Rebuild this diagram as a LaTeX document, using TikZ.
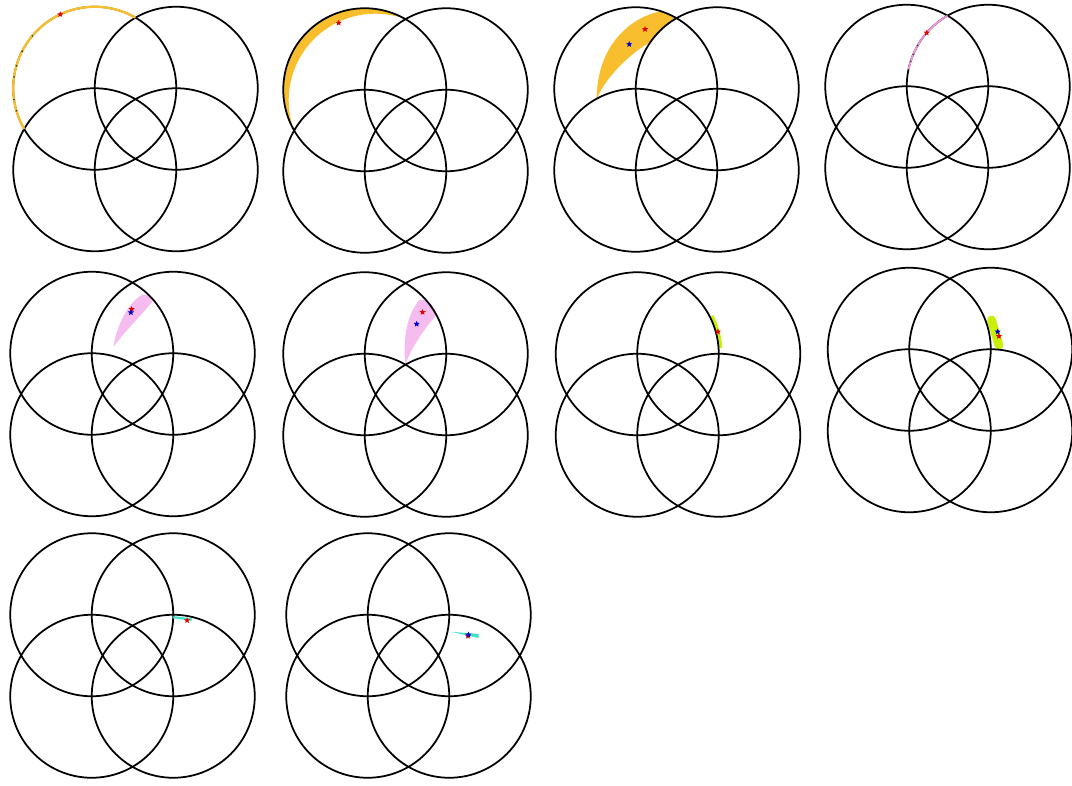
\documentclass[tikz,border=0pt]{standalone}
\usepackage{xcolor}
\usepackage{tikz}
\usetikzlibrary{shapes.geometric}

\definecolor{crescent}{RGB}{248,190,45}
\definecolor{lilac}{RGB}{246,188,240}
\definecolor{pinkline}{RGB}{240,150,225}
\definecolor{lime}{RGB}{200,240,10}
\definecolor{aqua}{RGB}{60,225,200}

\tikzset{
  ring/.style={black, line width=1pt},
  redstar/.style={star, star points=5, star point ratio=2.2, fill=red!90!black, inner sep=0pt, minimum size=3.6pt},
  bluestar/.style={redstar, fill=blue!80!black},
  dot/.style={fill=black!80},
}

% the four circles of one panel (centres one radius apart)
\newcommand{\rings}{%
  \foreach \cx/\cy in {-0.5/0.5, 0.5/0.5, -0.5/-0.5, 0.5/-0.5}
    \draw[ring] (\cx,\cy) circle (1);
}

\begin{document}
\begin{tikzpicture}[x=0.02cm, y=0.02cm]
    \useasboundingbox (0,0) rectangle (1072,-785);
    \fill[white] (0,0) rectangle (1072,-785);

    % Row 1
    \begin{scope}[shift={(135.5,-129)}, scale=81.5]
        \rings
        \draw[crescent, line width=1.3pt] (0,1.366) arc[start angle=60, end angle=210, radius=1];
        \foreach \a in {140,153,164,172,188,196}
            \fill[dot] (-0.5,0.5) ++(\a:1) circle (0.011);
        \node[redstar] (r1) at (-0.923,1.406) {};
    \end{scope}

    \begin{scope}[shift={(405.5,-130.5)}, scale=81.5]
        \begin{scope}
            \clip (-0.5,0.5) circle (1);
            \fill[crescent, even odd rule] (-0.5,0.5) circle (1) (-0.3715,0.3715) circle (1.0617);
        \end{scope}
        \rings
        \node[redstar] (r2) at (-0.82,1.32) {};
    \end{scope}

    \begin{scope}[shift={(676.5,-129.5)}, scale=81.5]
        \fill[crescent] (-0.98,0.36) .. controls (-0.90,0.62) and (-0.55,0.95) .. (-0.319,1.074)
            arc[start angle=145, end angle=120, radius=1]
            arc[start angle=60, end angle=72, radius=1]
            .. controls (-0.55,1.38) and (-0.98,1.05) .. (-0.98,0.36) -- cycle;
        \rings
        \node[redstar] (r3) at (-0.386,1.23) {};
        \node[bluestar] (b3) at (-0.58,1.045) {};
    \end{scope}

    \begin{scope}[shift={(947.5,-127)}, scale=81.5]
        \rings
        \draw[pinkline, line width=1pt] (0.5,0.5) ++(120:1) arc[start angle=120, end angle=168, radius=1];
        \foreach \a in {150,157,162}
            \fill[dot] (0.5,0.5) ++(\a:1) circle (0.01);
        \node[redstar] (r4) at (-0.255,1.156) {};
    \end{scope}

    % Row 2
    \begin{scope}[shift={(132.5,-394)}, scale=81.5]
        \fill[lilac] (-0.235,0.58) .. controls (-0.20,0.80) and (-0.08,1.10) .. (0.12,1.22)
            .. controls (0.18,1.23) and (0.24,1.18) .. (0.24,1.13)
            .. controls (0.12,0.98) and (-0.10,0.76) .. (-0.235,0.58) -- cycle;
        \rings
        \node[redstar] (r5) at (-0.01,1.04) {};
        \node[bluestar] (b5) at (-0.02,1.0) {};
    \end{scope}

    \begin{scope}[shift={(405.5,-394.5)}, scale=81.5]
        \fill[lilac] (0,0.37) .. controls (-0.04,0.70) and (0.03,1.0) .. (0.17,1.16)
            .. controls (0.25,1.18) and (0.34,1.12) .. (0.38,0.975)
            .. controls (0.22,0.80) and (0.06,0.55) .. (0,0.37) -- cycle;
        \rings
        \fill[dot] (0.25,1.16) circle (0.011);
        \node[redstar] (r6) at (0.21,1.01) {};
        \node[bluestar] (b6) at (0.137,0.865) {};
    \end{scope}

    \begin{scope}[shift={(678,-394.5)}, scale=81.5]
        \draw[lime, line width=2pt] (-0.5,0.5) ++(27:1.025) arc[start angle=27, end angle=4, radius=1.025];
        \rings
        \node[redstar] (r7) at (0.49,0.77) {};
    \end{scope}

    \begin{scope}[shift={(950,-390)}, scale=81.5]
        \draw[lime, line width=5pt, line cap=round] (0.51,0.86) -- (0.60,0.55);
        \rings
        \node[bluestar] (b8) at (0.585,0.715) {};
        \node[redstar] (r8) at (0.60,0.66) {};
    \end{scope}

    % Row 3
    \begin{scope}[shift={(132.5,-655.5)}, scale=81.5]
        \rings
        \draw[aqua, line width=1.3pt] (0.5,0.47) -- (0.73,0.44);
        \node[redstar] (r9) at (0.67,0.43) {};
    \end{scope}

    \begin{scope}[shift={(408.5,-655.5)}, scale=81.5]
        \rings
        \fill[aqua] (0.53,0.29) -- (0.86,0.265) -- (0.86,0.215) -- cycle;
        \node[redstar] (r10) at (0.73,0.24) {};
        \node[bluestar] (b10) at (0.735,0.255) {};
    \end{scope}

\end{tikzpicture}
\end{document}
